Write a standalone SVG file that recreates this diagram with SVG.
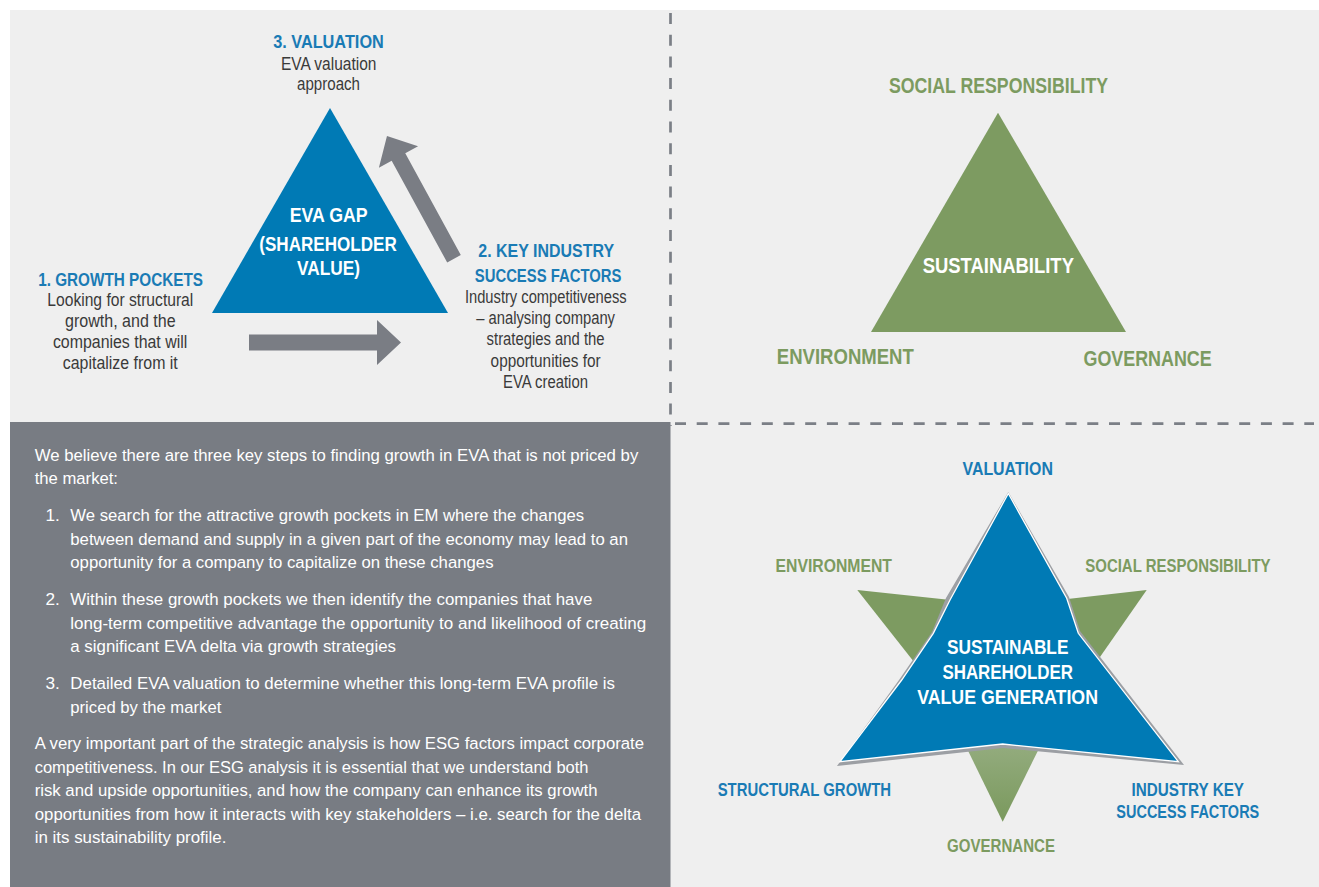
<svg xmlns="http://www.w3.org/2000/svg" width="1319" height="887" viewBox="0 0 1319 887">
<style>
text{font-family:"Liberation Sans Narrow","Liberation Sans",Arial,sans-serif}
.hb{font-weight:bold;fill:#1a7bb5;font-size:18.5px;text-anchor:middle}
.hw{font-weight:bold;fill:#ffffff;text-anchor:middle}
.hg{font-weight:bold;fill:#7c9b60;text-anchor:middle}
.bd{fill:#3a3a3a;font-size:17.5px;text-anchor:middle}
.wt{fill:#ffffff;font-size:17.2px}
.dash{stroke:#7b7f86;stroke-width:2.7;stroke-dasharray:11 10.7;fill:none}
.arrow{fill:#7a7d84}
.blue{fill:#007ab5}
.green{fill:#7d9b61}
</style>
<defs>
<linearGradient id="gg" x1="0" y1="0" x2="0" y2="1">
<stop offset="0" stop-color="#95ad80"/>
<stop offset="1" stop-color="#7a995d"/>
</linearGradient>
</defs>
<rect x="0" y="0" width="1319" height="887" fill="#ffffff"/>
<rect x="10" y="10" width="1309" height="877" fill="#efefef"/>
<rect x="10" y="422" width="660.5" height="465" fill="#787c83"/>
<g id="dividers">
<line class="dash" x1="670.5" y1="13" x2="670.5" y2="426"/>
<line class="dash" x1="675" y1="423.7" x2="1314" y2="423.7"/>
</g>

<g id="eva-gap">
<polygon class="blue" points="330,108 448,313 212,313"/>
<text class="hw" font-size="21" x="328.7" y="221.7" textLength="78" lengthAdjust="spacingAndGlyphs">EVA GAP</text>
<text class="hw" font-size="21" x="328" y="251" textLength="137.5" lengthAdjust="spacingAndGlyphs">(SHAREHOLDER</text>
<text class="hw" font-size="21" x="328.5" y="275" textLength="63" lengthAdjust="spacingAndGlyphs">VALUE)</text>
</g>
<g id="valuation">
<text class="hb" x="328.5" y="48" textLength="110.6" lengthAdjust="spacingAndGlyphs">3. VALUATION</text>
<text class="bd" x="328.7" y="70" textLength="95.4" lengthAdjust="spacingAndGlyphs">EVA valuation</text>
<text class="bd" x="328.5" y="89.5" textLength="63" lengthAdjust="spacingAndGlyphs">approach</text>
</g>
<g id="growth-pockets">
<text class="hb" x="120.6" y="285.7" textLength="164.8" lengthAdjust="spacingAndGlyphs">1. GROWTH POCKETS</text>
<text class="bd" x="120.3" y="306" textLength="146" lengthAdjust="spacingAndGlyphs">Looking for structural</text>
<text class="bd" x="120.3" y="327" textLength="110.6" lengthAdjust="spacingAndGlyphs">growth, and the</text>
<text class="bd" x="120.1" y="348" textLength="134.4" lengthAdjust="spacingAndGlyphs">companies that will</text>
<text class="bd" x="120.3" y="369" textLength="115" lengthAdjust="spacingAndGlyphs">capitalize from it</text>
</g>
<g id="key-industry">
<text class="hb" x="546.2" y="256.7" textLength="135.7" lengthAdjust="spacingAndGlyphs">2. KEY INDUSTRY</text>
<text class="hb" x="548.1" y="281.7" textLength="146.6" lengthAdjust="spacingAndGlyphs">SUCCESS FACTORS</text>
<text class="bd" x="545.8" y="303" textLength="161.7" lengthAdjust="spacingAndGlyphs">Industry competitiveness</text>
<text class="bd" x="545.6" y="324.2" textLength="138.8" lengthAdjust="spacingAndGlyphs">– analysing company</text>
<text class="bd" x="545.6" y="345.4" textLength="118" lengthAdjust="spacingAndGlyphs">strategies and the</text>
<text class="bd" x="545.6" y="366.6" textLength="110" lengthAdjust="spacingAndGlyphs">opportunities for</text>
<text class="bd" x="545.5" y="387.8" textLength="85" lengthAdjust="spacingAndGlyphs">EVA creation</text>
</g>
<g id="connectors">
<polygon class="arrow" points="249,334.5 377,334.5 377,320 401,342.5 377,365 377,350.5 249,350.5"/>
<g transform="translate(454,258.8) rotate(-118.6)">
<polygon class="arrow" points="0,-7.75 116,-7.75 116,-22.3 140,0 116,22.3 116,7.75 0,7.75"/>
</g>
</g>

<g id="sustainability">
<polygon class="green" points="998,112.7 1126,332 871,332"/>
<text class="hw" font-size="22" x="998.3" y="273" textLength="151.3" lengthAdjust="spacingAndGlyphs">SUSTAINABILITY</text>
</g>
<g id="tr-social">
<text class="hg" font-size="22" x="998.5" y="93" textLength="219" lengthAdjust="spacingAndGlyphs">SOCIAL RESPONSIBILITY</text>
</g>
<g id="tr-environment">
<text class="hg" font-size="22" x="845.3" y="364" textLength="137" lengthAdjust="spacingAndGlyphs">ENVIRONMENT</text>
</g>
<g id="tr-governance">
<text class="hg" font-size="22" x="1147.6" y="365.5" textLength="128.2" lengthAdjust="spacingAndGlyphs">GOVERNANCE</text>
</g>

<g id="text-panel">
<text class="wt" x="34.7" y="460.7" textLength="603.6" lengthAdjust="spacingAndGlyphs">We believe there are three key steps to finding growth in EVA that is not priced by</text>
<text class="wt" x="34.7" y="484.3" textLength="83.3" lengthAdjust="spacingAndGlyphs">the market:</text>
<text class="wt" x="45.5" y="521">1.</text>
<text class="wt" x="70.3" y="521" textLength="513.8" lengthAdjust="spacingAndGlyphs">We search for the attractive growth pockets in EM where the changes</text>
<text class="wt" x="70.3" y="544.5" textLength="557.7" lengthAdjust="spacingAndGlyphs">between demand and supply in a given part of the economy may lead to an</text>
<text class="wt" x="70.3" y="568" textLength="423.2" lengthAdjust="spacingAndGlyphs">opportunity for a company to capitalize on these changes</text>
<text class="wt" x="45.5" y="605.3">2.</text>
<text class="wt" x="70.3" y="605.3" textLength="522" lengthAdjust="spacingAndGlyphs">Within these growth pockets we then identify the companies that have</text>
<text class="wt" x="70.3" y="628.8" textLength="575.9" lengthAdjust="spacingAndGlyphs">long-term competitive advantage the opportunity to and likelihood of creating</text>
<text class="wt" x="70.3" y="652.3" textLength="325.7" lengthAdjust="spacingAndGlyphs">a significant EVA delta via growth strategies</text>
<text class="wt" x="45.5" y="689.3">3.</text>
<text class="wt" x="70.3" y="689.3" textLength="544.7" lengthAdjust="spacingAndGlyphs">Detailed EVA valuation to determine whether this long-term EVA profile is</text>
<text class="wt" x="70.3" y="712.8" textLength="151" lengthAdjust="spacingAndGlyphs">priced by the market</text>
<text class="wt" x="34.7" y="749.3" textLength="609.3" lengthAdjust="spacingAndGlyphs">A very important part of the strategic analysis is how ESG factors impact corporate</text>
<text class="wt" x="34.7" y="772.8" textLength="553.8" lengthAdjust="spacingAndGlyphs">competitiveness. In our ESG analysis it is essential that we understand both</text>
<text class="wt" x="34.7" y="796.3" textLength="562.9" lengthAdjust="spacingAndGlyphs">risk and upside opportunities, and how the company can enhance its growth</text>
<text class="wt" x="34.7" y="819.8" textLength="606.3" lengthAdjust="spacingAndGlyphs">opportunities from how it interacts with key stakeholders – i.e. search for the delta</text>
<text class="wt" x="34.7" y="843.3" textLength="191.7" lengthAdjust="spacingAndGlyphs">in its sustainability profile.</text>
</g>

<g id="star">
<polygon class="green" points="857.3,590 960,601 962,700 944,700"/>
<polygon class="green" points="1146.7,590 1050,601 1050,700 1070,700"/>
<polygon fill="url(#gg)" points="966.7,748 1002.7,740 1038.3,750 1002.7,821.7"/>
<polygon fill="#9c9fa4" points="1008.3,492 1069,597 1080,631 1184,765 1003,748 837,766 899,680 932,632 946,598"/>
<polygon class="blue" stroke="#ffffff" stroke-width="1.3" stroke-linejoin="miter" points="1008.3,493.5 1066.7,598.3 1078.3,633.3 1178.3,761.7 1002.7,744 840,761.7 901.7,680 933.3,633.3 950,600"/>
<text class="hw" font-size="21" x="1007.7" y="653.5" textLength="121.4" lengthAdjust="spacingAndGlyphs">SUSTAINABLE</text>
<text class="hw" font-size="21" x="1007.7" y="679" textLength="130.6" lengthAdjust="spacingAndGlyphs">SHAREHOLDER</text>
<text class="hw" font-size="21" x="1007.6" y="704" textLength="180.8" lengthAdjust="spacingAndGlyphs">VALUE GENERATION</text>
</g>
<g id="br-valuation">
<text class="hb" x="1007.7" y="475" textLength="90.4" lengthAdjust="spacingAndGlyphs">VALUATION</text>
</g>
<g id="br-environment">
<text class="hg" font-size="18.5" x="833.7" y="571.5" textLength="116.4" lengthAdjust="spacingAndGlyphs">ENVIRONMENT</text>
</g>
<g id="br-social">
<text class="hg" font-size="18.5" x="1177.9" y="571.5" textLength="185.3" lengthAdjust="spacingAndGlyphs">SOCIAL RESPONSIBILITY</text>
</g>
<g id="br-structural">
<text class="hb" x="804.4" y="796" textLength="173.5" lengthAdjust="spacingAndGlyphs">STRUCTURAL GROWTH</text>
</g>
<g id="br-industry">
<text class="hb" x="1187.7" y="796" textLength="112.6" lengthAdjust="spacingAndGlyphs">INDUSTRY KEY</text>
<text class="hb" x="1187.8" y="817.5" textLength="142.9" lengthAdjust="spacingAndGlyphs">SUCCESS FACTORS</text>
</g>
<g id="br-governance">
<text class="hg" font-size="18.5" x="1001" y="851.5" textLength="108" lengthAdjust="spacingAndGlyphs">GOVERNANCE</text>
</g>
</svg>
